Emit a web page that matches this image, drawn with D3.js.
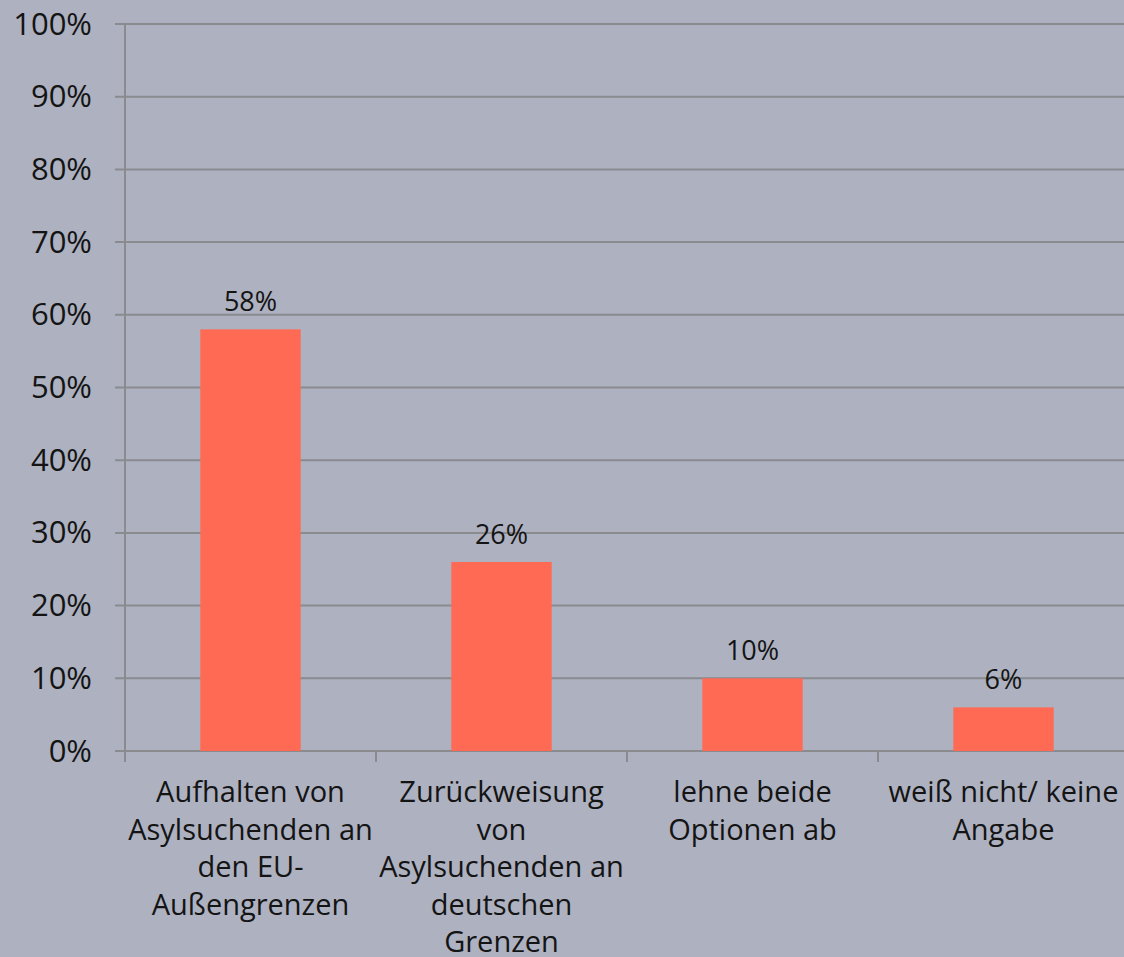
<!DOCTYPE html>
<html>
<head>
<meta charset="utf-8">
<script src="https://cdn.jsdelivr.net/npm/d3@7"></script>
<style>
  html, body { margin: 0; padding: 0; background: #adb1c0; }
  svg { display: block; font-family: "Open Sans", "Noto Sans", sans-serif; font-weight: 400; }
</style>
</head>
<body>
<div id="chart"></div>
<script>
var categories = [
  ["Aufhalten von", "Asylsuchenden an", "den EU-", "Außengrenzen"],
  ["Zurückweisung", "von", "Asylsuchenden an", "deutschen", "Grenzen"],
  ["lehne beide", "Optionen ab"],
  ["weiß nicht/ keine", "Angabe"]
];
var values = [58, 26, 10, 6];
var yTicks = [0, 10, 20, 30, 40, 50, 60, 70, 80, 90, 100];

var WIDTH = 1124,
    HEIGHT = 957,
    PLOT_LEFT = 125, PLOT_RIGHT = 1129, PLOT_TOP = 24, PLOT_BOTTOM = 751,
    GRID = "#8a8b8f",
    TEXT = "#141414";

var svg = d3.select("#chart").append("svg")
  .attr("width", WIDTH)
  .attr("height", HEIGHT);

var x = d3.scaleBand()
  .domain(d3.range(categories.length))
  .range([PLOT_LEFT, PLOT_RIGHT])
  .paddingInner(0.6)
  .paddingOuter(0.3);

var y = d3.scaleLinear().domain([0, 100]).range([PLOT_BOTTOM, PLOT_TOP]);

// gridlines + y ticks
svg.append("g").selectAll("line")
  .data(yTicks)
  .enter().append("line")
  .attr("x1", PLOT_LEFT - 10).attr("x2", WIDTH)
  .attr("y1", function(d) { return y(d); })
  .attr("y2", function(d) { return y(d); })
  .attr("stroke", GRID)
  .attr("stroke-width", 2);

svg.append("g").selectAll("text")
  .data(yTicks)
  .enter().append("text")
  .attr("x", 92)
  .attr("y", function(d) { return y(d); })
  .attr("dy", "0.34em")
  .attr("text-anchor", "end")
  .attr("font-size", 31)
  .attr("fill", TEXT)
  .text(function(d) { return d + "%"; });

// y axis line
svg.append("line")
  .attr("x1", PLOT_LEFT).attr("x2", PLOT_LEFT)
  .attr("y1", PLOT_TOP).attr("y2", PLOT_BOTTOM + 11)
  .attr("stroke", GRID)
  .attr("stroke-width", 2);

// category ticks
var n = categories.length;
svg.append("g").selectAll("line")
  .data(d3.range(n + 1))
  .enter().append("line")
  .attr("x1", function(i) { return PLOT_LEFT + i * (PLOT_RIGHT - PLOT_LEFT) / n; })
  .attr("x2", function(i) { return PLOT_LEFT + i * (PLOT_RIGHT - PLOT_LEFT) / n; })
  .attr("y1", PLOT_BOTTOM).attr("y2", PLOT_BOTTOM + 11)
  .attr("stroke", GRID)
  .attr("stroke-width", 2);

// bars
svg.append("g").selectAll("rect")
  .data(values)
  .enter().append("rect")
  .attr("x", function(d, i) { return x(i); })
  .attr("y", function(d) { return y(d); })
  .attr("width", x.bandwidth())
  .attr("height", function(d) { return PLOT_BOTTOM - y(d); })
  .attr("fill", "#ff6a55");

// value labels
svg.append("g").selectAll("text")
  .data(values)
  .enter().append("text")
  .attr("x", function(d, i) { return x(i) + x.bandwidth() / 2; })
  .attr("y", function(d) { return y(d) - 18; })
  .attr("text-anchor", "middle")
  .attr("font-size", 27)
  .attr("fill", TEXT)
  .text(function(d) { return d + "%"; });

// category labels
var catG = svg.append("g").selectAll("text")
  .data(categories)
  .enter().append("text")
  .attr("text-anchor", "middle")
  .attr("font-size", 29)
  .attr("fill", TEXT);

catG.selectAll("tspan")
  .data(function(d, i) { return d.map(function(s) { return {s: s, i: i}; }); })
  .enter().append("tspan")
  .attr("x", function(d) { return x(d.i) + x.bandwidth() / 2; })
  .attr("y", function(d, j) { return 802 + j * 37.5; })
  .text(function(d) { return d.s; });
</script>
</body>
</html>
